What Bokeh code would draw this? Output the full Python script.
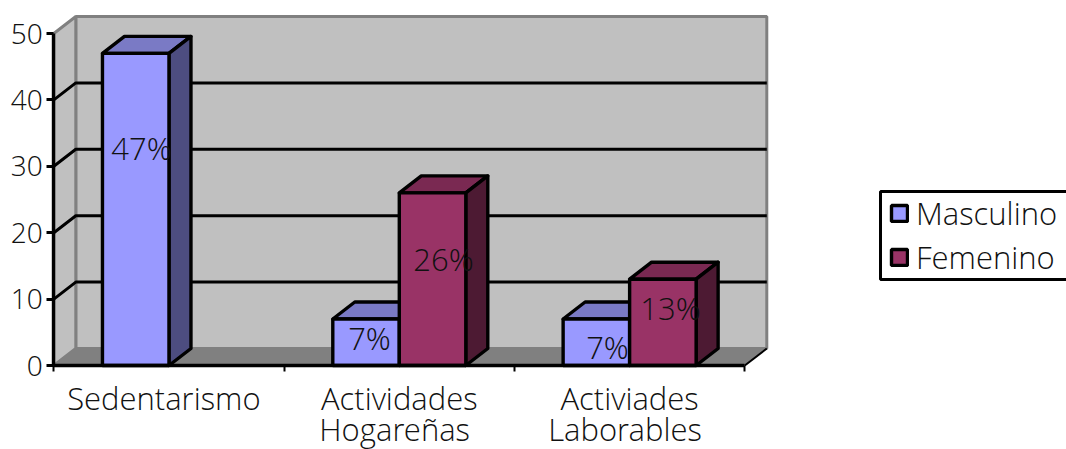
from bokeh.core.properties import value
from bokeh.embed import file_html
from bokeh.models import FixedTicker, Legend, LegendItem, LinearAxis, Range1d
from bokeh.plotting import figure
from bokeh.resources import INLINE

categories_line1 = ["Sedentarismo", "Actividades", "Activiades"]
categories_line2 = ["", "Hogareñas", "Laborables"]
masculino = [47, 7, 7]
femenino = [None, 26, 13]
masculino_labels = ["47%", "7%", "7%"]
femenino_labels = [None, "26%", "13%"]
y_ticks = [0, 10, 20, 30, 40, 50]

FONT = "Open Sans Light"
TEXT_COLOR = "#111111"

# Pixel layout of the front plane of the chart box
PLOT_W, PLOT_H = 1066, 449
LEFT, BASE, CAT_PX, UNIT_PX = 53.3, 365, 230.33, 6.64
# Oblique projection: the offset of the rear plane, in data units
DX, DY = 22 / CAT_PX, 17 / UNIT_PX
BAR_W = 66.5 / CAT_PX
BAR_LINE = 3.4


def page_x(x):
    return (x - LEFT) / CAT_PX


def page_y(y):
    return (BASE - y) / UNIT_PX


p = figure(
    width=PLOT_W, height=PLOT_H, output_backend="svg", toolbar_location=None,
    x_range=Range1d(page_x(0), page_x(PLOT_W)), y_range=Range1d(page_y(PLOT_H), page_y(0)),
    min_border=0, outline_line_color=None, background_fill_color="white", x_axis_type=None, y_axis_type=None,
)
p.grid.visible = False

n_cat = len(categories_line1)
top = y_ticks[-1]
WALL, FLOOR, EDGE = "#C0C0C0", "#808080", "#808080"

# Rear wall, side wall and floor of the box
p.patch([DX, n_cat + DX, n_cat + DX, DX], [DY, DY, top + DY, top + DY],
        fill_color=WALL, line_color=EDGE, line_width=3)
p.patch([0, DX, DX, 0], [0, DY, top + DY, top], fill_color=WALL, line_color=EDGE, line_width=3)
p.patch([0, n_cat, n_cat + DX, DX], [0, 0, DY, DY], fill_color=FLOOR, line_color=EDGE, line_width=1)
p.line([n_cat, n_cat + DX], [0, DY], line_color="black", line_width=2)

# Grid lines run along the side wall and across the rear wall
for t in y_ticks[1:-1]:
    p.line([0, DX, n_cat + DX], [t, t + DY, t + DY], line_color="black", line_width=3)


def draw_bars(values, x_shift, front, roof, side):
    xs, tops = [], []
    for i, v in enumerate(values):
        if v is None:
            continue
        x0 = i + 0.5 + x_shift
        x1 = x0 + BAR_W
        p.patch([x0, x1, x1 + DX, x0 + DX], [v, v, v + DY, v + DY],
                fill_color=roof, line_color="black", line_width=BAR_LINE, line_join="round")
        p.patch([x1, x1 + DX, x1 + DX, x1], [0, DY, v + DY, v],
                fill_color=side, line_color="black", line_width=BAR_LINE, line_join="round")
        xs.append((x0 + x1) / 2)
        tops.append(v)
    return p.vbar(x=xs, top=tops, bottom=0, width=BAR_W, fill_color=front,
                  line_color="black", line_width=BAR_LINE)


male = draw_bars(masculino, -BAR_W, "#9999FF", "#7A7AC5", "#4D4D80")
female = draw_bars(femenino, 0, "#993366", "#7A2952", "#4D1A33")

# Value labels sit over the bars, at their own page positions
label_x = [141, 369, 607, 443, 670]
label_y = [147, 337, 346, 258, 307]
label_text = [masculino_labels[0], masculino_labels[1], masculino_labels[2], femenino_labels[1], femenino_labels[2]]
p.text(x=[page_x(x) for x in label_x], y=[page_y(y) for y in label_y], text=label_text,
       text_font=value(FONT), text_font_size="31px", text_color=TEXT_COLOR,
       text_align="center", text_baseline="middle")


# Two stacked category axes give the two-line labels their tight line spacing
def category_axis(lines, centres, standoff, with_line):
    axis = LinearAxis(fixed_location=0)
    axis.ticker = FixedTicker(ticks=centres, minor_ticks=[0, 1, 2, 3] if with_line else [])
    axis.major_label_overrides = dict(zip(centres, lines))
    axis.bounds = (0, n_cat)
    axis.axis_line_color = "black" if with_line else None
    axis.axis_line_width = 3.4
    axis.major_tick_in = axis.major_tick_out = 0
    axis.minor_tick_in = 0
    axis.minor_tick_out = 6
    axis.minor_tick_line_color = "black"
    axis.minor_tick_line_width = 2
    axis.major_label_standoff = standoff
    axis.major_label_text_font = FONT
    axis.major_label_text_font_size = "31px"
    axis.major_label_text_color = TEXT_COLOR
    p.add_layout(axis, "below")


category_axis(categories_line1, [0.478, 1.5, 2.5], 5, True)
category_axis(categories_line2, [0.48, 1.48, 2.48], 42, False)

ya = LinearAxis(fixed_location=0)
ya.ticker = FixedTicker(ticks=y_ticks)
ya.bounds = (0, top)
ya.axis_line_color = "black"
ya.axis_line_width = 3.4
ya.major_tick_in = 0
ya.major_tick_out = 7
ya.major_tick_line_color = "black"
ya.major_tick_line_width = 3
ya.minor_tick_line_color = None
ya.major_label_standoff = 4
ya.major_label_text_font = FONT
ya.major_label_text_font_size = "28px"
ya.major_label_text_color = TEXT_COLOR
p.add_layout(ya, "left")

# Legend box, its right side running off the page
p.quad(left=[page_x(880)], right=[page_x(1075)], top=[page_y(191)], bottom=[page_y(279)],
       fill_color="white", line_color="black", line_width=3)
legend = Legend(
    items=[LegendItem(label="Masculino", renderers=[male]), LegendItem(label="Femenino", renderers=[female])],
    location=(889, PLOT_H - 278), orientation="vertical",
    border_line_color=None, background_fill_alpha=0,
    padding=0, margin=0, spacing=2, glyph_width=20, glyph_height=20, label_height=20, label_standoff=7,
    label_text_font=FONT, label_text_font_size="31px", label_text_color=TEXT_COLOR,
)
p.add_layout(legend, "center")

open("out.html", "w").write(file_html(p, INLINE))
